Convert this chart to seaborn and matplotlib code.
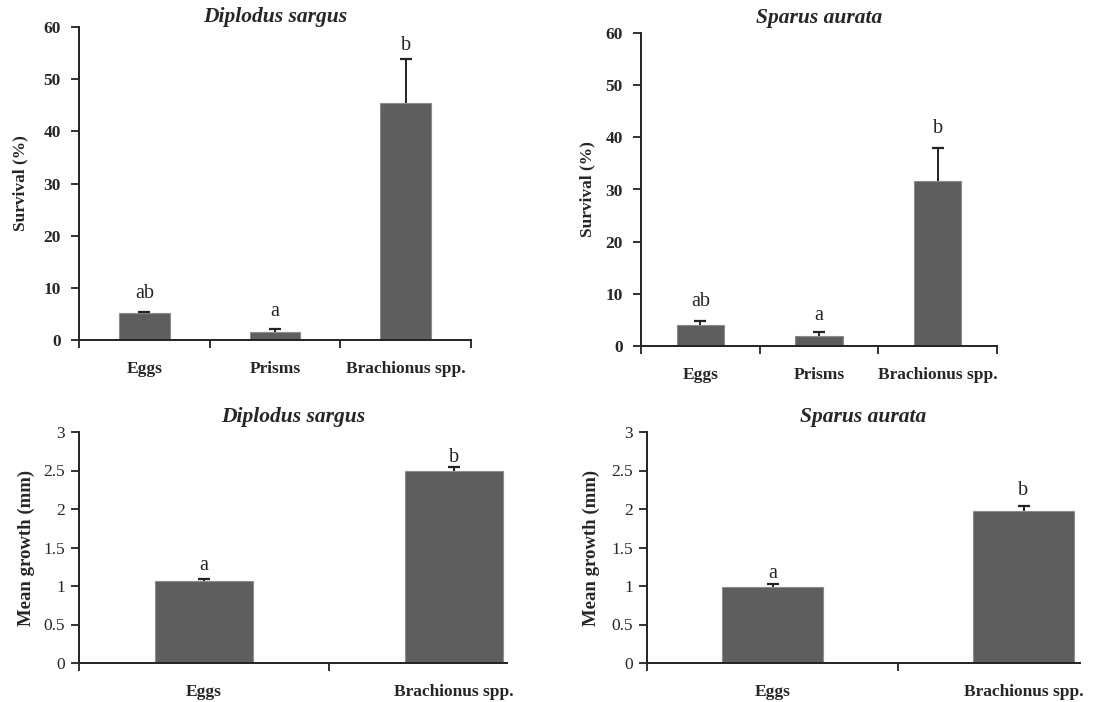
import matplotlib
matplotlib.use("Agg")
import matplotlib.pyplot as plt
import seaborn as sns
import pandas as pd
import numpy as np

sns.set_theme(style="ticks")
plt.rcParams["font.family"] = ["Liberation Serif", "DejaVu Serif"]

# Survival (%) by diet
surv_diets = ["Eggs", "Prisms", "Brachionus spp."]
surv_sargus = [5.1, 1.5, 45.4]
surv_sargus_err = [0.3, 0.6, 8.4]
surv_sargus_letters = ["ab", "a", "b"]
surv_aurata = [4.0, 2.0, 31.6]
surv_aurata_err = [0.7, 0.6, 6.4]
surv_aurata_letters = ["ab", "a", "b"]

# Mean growth (mm) by diet
grow_diets = ["Eggs", "Brachionus spp."]
grow_sargus = [1.06, 2.49]
grow_sargus_err = [0.03, 0.05]
grow_sargus_letters = ["a", "b"]
grow_aurata = [0.99, 1.97]
grow_aurata_err = [0.04, 0.07]
grow_aurata_letters = ["a", "b"]

BAR = "#5e5e5e"
INK = "#222222"
W, H = 1114, 702
fig = plt.figure(figsize=(W / 100, H / 100), dpi=100)


def add_ax(left, right, top, bottom):
    return fig.add_axes([left / W, 1 - bottom / H, (right - left) / W, (bottom - top) / H])


def panel(ax, cats, vals, errs, letters, title, ylabel, ymax, ystep, width,
          yfmt, tick_bold, letter_off, xright, end_tick, title_pad,
          ylabel_size, ylabel_pad, ytick_pad):
    df = pd.DataFrame({"diet": cats, "value": vals})
    sns.barplot(data=df, x="diet", y="value", order=cats, color=BAR,
                saturation=1, width=width, edgecolor="#8c8c8c", linewidth=0.8,
                errorbar=None, ax=ax)
    x = np.arange(len(cats))
    vals = np.asarray(vals)
    tops = vals + np.asarray(errs)
    # one-sided (upper) error bars with a cap at the top only
    ax.vlines(x, vals, tops, color=INK, linewidth=1.4, zorder=3)
    ax.plot(x, tops, ls="none", marker="_", markersize=9, mew=1.6,
            color=INK, zorder=3)
    for xi, t, lab, off in zip(x, tops, letters, letter_off):
        ax.annotate(lab, (xi, t), xytext=(0, off), textcoords="offset pixels",
                    ha="center", va="baseline", fontsize=14.5, color=INK)
    ax.set_xlim(-0.5, xright)
    ax.set_ylim(0, ymax)
    ticks = np.arange(0, ymax + ystep / 2, ystep)
    ax.set_yticks(ticks)
    ax.set_yticklabels([yfmt(t) for t in ticks], fontsize=12.5,
                       fontweight="bold" if tick_bold else "normal")
    ax.set_xticks(x)
    ax.set_xticklabels(cats, fontsize=12.5, fontweight="bold")
    minor = np.arange(-0.5, len(cats) - 0.5 + (0.5 if end_tick else 0))
    ax.set_xticks(minor, minor=True)
    ax.tick_params(axis="x", which="major", length=0, pad=15)
    ax.tick_params(axis="x", which="minor", length=6, width=1.3,
                   direction="out", color=INK)
    ax.tick_params(axis="y", length=6, width=1.3, direction="out",
                   pad=ytick_pad, color=INK)
    ax.set_xlabel("")
    ax.set_ylabel(ylabel, fontsize=ylabel_size, fontweight="bold",
                  labelpad=ylabel_pad)
    ax.set_title(title, fontsize=15.5, fontweight="bold", style="italic",
                 pad=title_pad)
    for s in ("top", "right"):
        ax.spines[s].set_visible(False)
    for s in ("left", "bottom"):
        ax.spines[s].set_linewidth(1.4)
        ax.spines[s].set_color(INK)


ax1 = add_ax(79, 471, 27, 340)
panel(ax1, surv_diets, surv_sargus, surv_sargus_err, surv_sargus_letters,
      "Diplodus sargus", "Survival (%)", 60, 10, 0.39,
      lambda t: f"{t:.0f}", True, [14, 13, 9], 2.5, True, 2,
      12.5, 11, 7)

ax2 = add_ax(641, 997, 33, 346)
panel(ax2, surv_diets, surv_aurata, surv_aurata_err, surv_aurata_letters,
      "Sparus aurata", "Survival (%)", 60, 10, 0.40,
      lambda t: f"{t:.0f}", True, [15, 12, 15], 2.5, True, 7,
      12.5, 7, 7)

ax3 = add_ax(79, 507, 432, 663)
panel(ax3, grow_diets, grow_sargus, grow_sargus_err, grow_sargus_letters,
      "Diplodus sargus", "Mean growth (mm)", 3, 0.5, 0.39,
      lambda t: f"{t:g}", False, [9, 5], 1.212, False, 7,
      13.5, 6, 4)

ax4 = add_ax(647, 1080, 432, 663)
panel(ax4, grow_diets, grow_aurata, grow_aurata_err, grow_aurata_letters,
      "Sparus aurata", "Mean growth (mm)", 3, 0.5, 0.40,
      lambda t: f"{t:g}", False, [6, 11], 1.225, False, 7,
      13.5, 8, 4)

fig.savefig("out.png", dpi=100, facecolor="white")
